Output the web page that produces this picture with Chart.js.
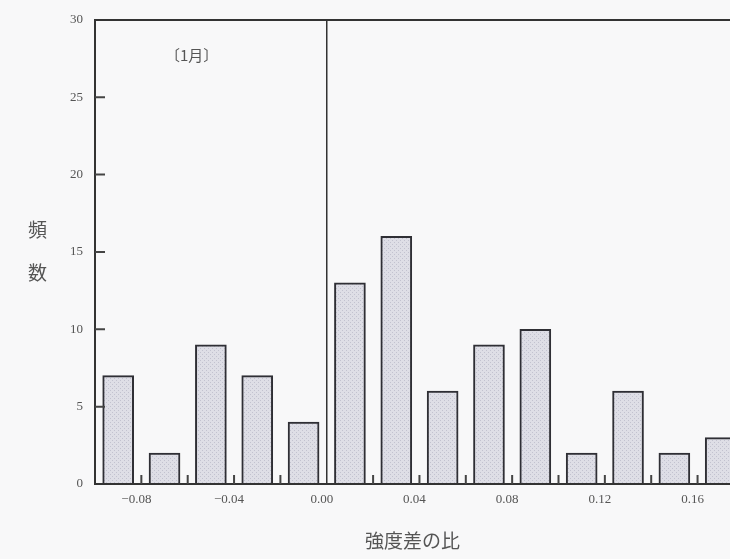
<!DOCTYPE html>
<html lang="ja">
<head>
    <meta charset="UTF-8">
    <title>強度差の比</title>
    <script src="https://cdn.jsdelivr.net/npm/chart.js"></script>
    <style>
        body { margin: 0; background: #f8f8f9; }
        #wrap { position: relative; width: 730px; height: 559px; }
        .lbl { position: absolute; font-family: "Noto Sans CJK JP", sans-serif; color: #555; }
    </style>
</head>
<body>
    <div id="wrap">
        <canvas id="myChart" width="730" height="559"></canvas>
        <div class="lbl" style="left:165px; top:44px; font-size:15px;">〔1月〕</div>
        <div class="lbl" style="left:28px; top:215px; font-size:19px;">頻</div>
        <div class="lbl" style="left:28px; top:258px; font-size:19px;">数</div>
    </div>

    <script>
        // bin centres (bins are 0.02 wide) and counts
        const binCenters = [-0.09, -0.07, -0.05, -0.03, -0.01, 0.01, 0.03, 0.05, 0.07, 0.09, 0.11, 0.13, 0.15, 0.17];
        const counts = [7, 2, 9, 7, 4, 13, 16, 6, 9, 10, 2, 6, 2, 3];
        // bin edges get a small tick, every other one a label
        const binEdges = [-0.10, -0.08, -0.06, -0.04, -0.02, 0.00, 0.02, 0.04, 0.06, 0.08, 0.10, 0.12, 0.14, 0.16];
        const xLabelValues = [-0.08, -0.04, 0.00, 0.04, 0.08, 0.12, 0.16];
        const yTicks = [0, 5, 10, 15, 20, 25, 30];

        // dotted grey fill like the printed screen
        function makePattern() {
            const c = document.createElement('canvas');
            c.width = 4; c.height = 4;
            const g = c.getContext('2d');
            g.fillStyle = '#dedee6';
            g.fillRect(0, 0, 4, 4);
            g.fillStyle = '#c2c2cf';
            g.fillRect(0, 0, 1, 1);
            g.fillRect(2, 2, 1, 1);
            return g.createPattern(c, 'repeat');
        }

        const isLabelled = v => xLabelValues.some(t => Math.abs(t - v) < 1e-6);
        const fmt = v => (v < -1e-9 ? '\u2212' : '') + Math.abs(v).toFixed(2);

        // short inward tick marks on both axes
        const innerTicks = {
            id: 'innerTicks',
            afterDatasetsDraw(chart) {
                const { ctx, scales: { x, y }, chartArea } = chart;
                ctx.save();
                ctx.strokeStyle = '#444';
                ctx.lineWidth = 2;
                ctx.beginPath();
                yTicks.slice(1, -1).forEach(v => {
                    const py = y.getPixelForValue(v);
                    ctx.moveTo(chartArea.left, py);
                    ctx.lineTo(chartArea.left + 10, py);
                });
                binEdges.slice(1).forEach(v => {
                    if (Math.abs(v) < 1e-9) return;
                    const px = x.getPixelForValue(v);
                    ctx.moveTo(px, chartArea.bottom);
                    ctx.lineTo(px, chartArea.bottom - 9);
                });
                ctx.stroke();
                ctx.restore();
            }
        };

        const config = {
            type: 'bar',
            data: {
                datasets: [{
                    data: binCenters.map((c, i) => ({ x: c, y: counts[i] })),
                    backgroundColor: makePattern(),
                    borderColor: '#2f2f35',
                    borderWidth: 2,
                    barThickness: 31
                }]
            },
            options: {
                responsive: false,
                animation: false,
                layout: { padding: { top: 12, right: 0, bottom: 0, left: 0 } },
                plugins: { legend: { display: false }, tooltip: { enabled: false } },
                scales: {
                    x: {
                        type: 'linear',
                        offset: false,
                        min: -0.10,
                        max: 0.174,
                        afterBuildTicks: s => { s.ticks = binEdges.map(v => ({ value: v })); },
                        afterFit: s => { s.height = 75; },
                        border: { display: true, color: '#333', width: 2 },
                        grid: {
                            offset: false,
                            drawTicks: false,
                            lineWidth: 1.5,
                            color: c => (c.tick && Math.abs(c.tick.value) < 1e-9) ? '#333' : 'rgba(0,0,0,0)'
                        },
                        ticks: {
                            padding: 8,
                            labelOffset: -5,
                            maxRotation: 0,
                            autoSkip: false,
                            color: '#555',
                            font: { family: 'Liberation Serif', size: 13 },
                            callback: v => isLabelled(v) ? fmt(v) : ''
                        },
                        title: {
                            display: true,
                            text: '強度差の比',
                            color: '#555',
                            font: { family: 'Noto Sans CJK JP', size: 19 },
                            padding: { top: 4, bottom: 7 }
                        }
                    },
                    y: {
                        min: 0,
                        max: 30,
                        afterFit: s => { s.width = 95; },
                        border: { display: true, color: '#333', width: 2 },
                        grid: {
                            drawTicks: false,
                            lineWidth: 2,
                            color: c => (c.tick && c.tick.value === 30) ? '#333' : 'rgba(0,0,0,0)'
                        },
                        ticks: {
                            stepSize: 5,
                            padding: 12,
                            color: '#555',
                            font: { family: 'Liberation Serif', size: 13 }
                        }
                    }
                }
            },
            plugins: [innerTicks]
        };

        const ctx = document.getElementById('myChart').getContext('2d');
        new Chart(ctx, config);
    </script>
</body>
</html>
